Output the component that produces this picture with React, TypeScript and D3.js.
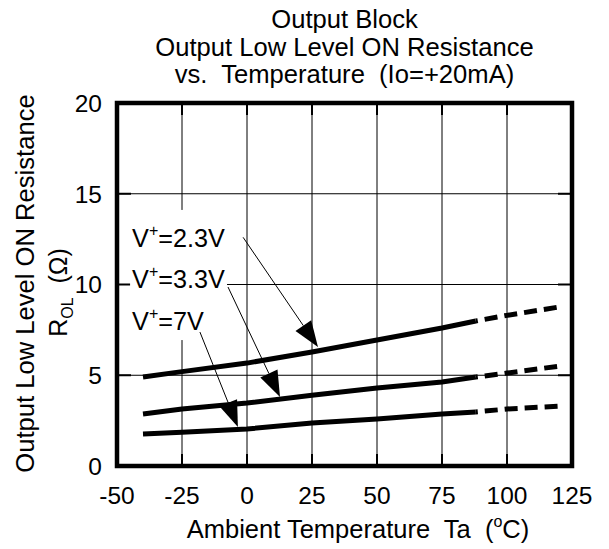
import React from 'react';
import * as d3 from 'd3';

const TITLE_LINES = ['Output Block', 'Output Low Level ON Resistance', 'vs.  Temperature  (Io=+20mA)'];
const X_TICKS = [-50, -25, 0, 25, 50, 75, 100, 125];
const Y_TICKS = [0, 5, 10, 15, 20];

// measured part of each curve, then the dashed (extrapolated) part
const SOLID_TEMPS = [-40, -25, 0, 25, 50, 75, 88];
const DASHED_TEMPS = [88, 100, 120];
const V23_SOLID = [4.9, 5.2, 5.67, 6.28, 6.94, 7.6, 7.99];
const V23_DASHED = [7.99, 8.3, 8.76];
const V33_SOLID = [2.87, 3.14, 3.47, 3.9, 4.3, 4.63, 4.9];
const V33_DASHED = [4.9, 5.12, 5.5];
const V7_SOLID = [1.76, 1.86, 2.04, 2.37, 2.59, 2.87, 2.98];
const V7_DASHED = [2.98, 3.14, 3.3];

const SERIES = [
  { name: '2.3V', solid: V23_SOLID, dashed: V23_DASHED },
  { name: '3.3V', solid: V33_SOLID, dashed: V33_DASHED },
  { name: '7V', solid: V7_SOLID, dashed: V7_DASHED },
];

// label anchor, arrow start and arrow tip, in chart units (degC, ohm)
const LABEL_VOLTS = ['2.3V', '3.3V', '7V'];
const LABEL_AT = [[-44.2, 12.07], [-44.2, 9.8], [-44.2, 7.49]];
const ARROW_FROM = [[-1.5, 12.6], [-7.3, 9.86], [-18.1, 7.38]];
const ARROW_TO = [[27.3, 6.55], [12.7, 3.8], [-3.5, 2.15]];

const W = 609;
const H = 549;
const M = { left: 117, right: 572, top: 103, bottom: 466 };
const FONT = '"Liberation Sans", Arial, sans-serif';

const App: React.FC = () => {
  const x = d3.scaleLinear().domain([-50, 125]).range([M.left, M.right]);
  const y = d3.scaleLinear().domain([0, 20]).range([M.bottom, M.top]);

  const line = d3.line<[number, number]>().x(d => x(d[0])).y(d => y(d[1]));
  const zip = (t: number[], v: number[]) => t.map((tt, i) => [tt, v[i]] as [number, number]);

  const cx = (M.left + M.right) / 2;
  const cy = (M.top + M.bottom) / 2;

  const arrows = LABEL_VOLTS.map((v, i) => {
    const x0 = x(ARROW_FROM[i][0]), y0 = y(ARROW_FROM[i][1]);
    const x1 = x(ARROW_TO[i][0]), y1 = y(ARROW_TO[i][1]);
    const ang = Math.atan2(y1 - y0, x1 - x0);
    const len = 26, hw = 9.5;
    const bx = x1 - len * Math.cos(ang), by = y1 - len * Math.sin(ang);
    const px = -Math.sin(ang) * hw, py = Math.cos(ang) * hw;
    const head = `M${x1},${y1} L${bx + px},${by + py} L${bx - px},${by - py} Z`;
    return { v, x0, y0, bx, by, head, lx: x(LABEL_AT[i][0]), ly: y(LABEL_AT[i][1]) };
  });

  return (
    <svg width={W} height={H} style={{ position: 'absolute', left: 0, top: 0, background: '#fff' }}
      fontFamily={FONT}>
      <rect width={W} height={H} fill="#fff" />

      {/* title */}
      {TITLE_LINES.map((t, i) => (
        <text key={t} x={cx} y={28 + i * 27.5} textAnchor="middle" fontSize={25.6}
          style={{ whiteSpace: 'pre' }}>{t}</text>
      ))}

      {/* grid */}
      {X_TICKS.slice(1, -1).map(t => (
        <line key={'gx' + t} x1={x(t)} x2={x(t)} y1={M.top} y2={M.bottom} stroke="#000" strokeWidth={1} />
      ))}
      {Y_TICKS.slice(1, -1).map(t => (
        <line key={'gy' + t} x1={M.left} x2={M.right} y1={y(t)} y2={y(t)} stroke="#000" strokeWidth={1} />
      ))}
      {/* inward ticks */}
      {X_TICKS.slice(1, -1).map(t => (
        <g key={'tx' + t}>
          <line x1={x(t)} x2={x(t)} y1={M.bottom} y2={M.bottom - 12} stroke="#000" strokeWidth={2} />
          <line x1={x(t)} x2={x(t)} y1={M.top} y2={M.top + 12} stroke="#000" strokeWidth={2} />
        </g>
      ))}
      {Y_TICKS.slice(1, -1).map(t => (
        <g key={'ty' + t}>
          <line x1={M.left} x2={M.left + 14} y1={y(t)} y2={y(t)} stroke="#000" strokeWidth={2} />
          <line x1={M.right} x2={M.right - 14} y1={y(t)} y2={y(t)} stroke="#000" strokeWidth={2} />
        </g>
      ))}

      {/* white boxes behind the voltage labels */}
      {arrows.map(a => (
        <rect key={'bg' + a.v} x={a.lx - 2} y={a.ly - 37} width={a.x0 - a.lx + 1} height={47} fill="#fff" />
      ))}

      {/* curves */}
      {SERIES.map(s => (
        <g key={s.name}>
          <path d={line(zip(SOLID_TEMPS, s.solid)) || ''} fill="none" stroke="#000" strokeWidth={5} />
          <path d={line(zip(DASHED_TEMPS, s.dashed)) || ''} fill="none" stroke="#000" strokeWidth={5}
            strokeDasharray="13 7" strokeDashoffset={11} />
        </g>
      ))}

      {/* annotations */}
      {arrows.map(a => (
        <g key={'an' + a.v}>
          <text x={a.lx} y={a.ly} fontSize={25.2}>
            V<tspan fontSize={16} dy={-11}>+</tspan><tspan dy={11}>={a.v}</tspan>
          </text>
          <line x1={a.x0} y1={a.y0} x2={a.bx} y2={a.by} stroke="#000" strokeWidth={1} />
          <path d={a.head} fill="#000" />
        </g>
      ))}

      {/* frame */}
      <rect x={M.left} y={M.top} width={M.right - M.left} height={M.bottom - M.top}
        fill="none" stroke="#000" strokeWidth={4.5} />

      {/* tick labels */}
      {X_TICKS.map(t => (
        <text key={'lx' + t} x={x(t)} y={504} textAnchor="middle" fontSize={24.5}>{t}</text>
      ))}
      {Y_TICKS.map(t => (
        <text key={'ly' + t} x={102} y={y(t)} dy="0.36em" textAnchor="end" fontSize={24.5}>{t}</text>
      ))}

      {/* axis titles */}
      <text x={358} y={538} textAnchor="middle" fontSize={25.5} style={{ whiteSpace: 'pre' }}>
        {'Ambient Temperature  Ta  ('}<tspan fontSize={16} dy={-11}>o</tspan><tspan dy={11}>C)</tspan>
      </text>
      <text transform={`translate(34,${cy - 1}) rotate(-90)`} textAnchor="middle" fontSize={25.6}>
        Output Low Level ON Resistance
      </text>
      <text transform={`translate(67,${cy + 8}) rotate(-90)`} textAnchor="middle" fontSize={25}
        style={{ whiteSpace: 'pre' }}>
        R<tspan fontSize={16} dy={6}>OL</tspan><tspan dy={-6}>{'  (Ω)'}</tspan>
      </text>
    </svg>
  );
};

export default App;
